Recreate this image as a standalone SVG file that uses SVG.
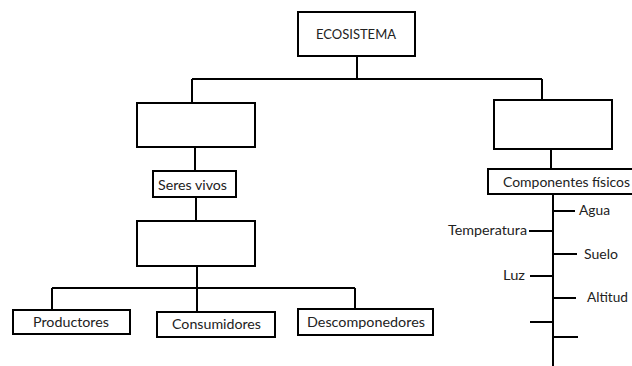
<svg xmlns="http://www.w3.org/2000/svg" width="632" height="366" viewBox="0 0 632 366">
<style>
.box{fill:#fff;stroke:#000;stroke-width:2}
.ln{fill:none;stroke:#000;stroke-width:2}
text{font-family:Lato,"Liberation Sans",sans-serif;font-size:14px;fill:#222}
</style>
<rect width="632" height="366" fill="#fff"/>
<g id="connectors">
<path class="ln" d="M357,56V79M192,79H542M192,79V103M542,79V100"/>
<path class="ln" d="M195,147V171M196,197V221M197,266V288M52,288H355M52,288V310M197,288V312M355,288V309"/>
<path class="ln" d="M551,149V169M553,194V366"/>
<path class="ln" d="M553,211H575M529,231H553M553,254H577M530,276H553M553,298H576M530,322H553M553,337H578"/>
</g>
<g id="ecosistema"><rect class="box" x="298" y="12" width="117" height="44"/><text x="316" y="39" textLength="80" lengthAdjust="spacingAndGlyphs">ECOSISTEMA</text></g>
<g id="box-left"><rect class="box" x="137" y="103" width="118" height="44"/></g>
<g id="box-right"><rect class="box" x="494" y="100" width="118" height="49"/></g>
<g id="seres-vivos"><rect class="box" x="153" y="171" width="83" height="26"/><text x="158" y="190" textLength="69" lengthAdjust="spacingAndGlyphs">Seres vivos</text></g>
<g id="box-middle"><rect class="box" x="137" y="221" width="118" height="45"/></g>
<g id="componentes"><rect class="box" x="488" y="169" width="146" height="25"/><text x="503" y="187" textLength="127" lengthAdjust="spacingAndGlyphs">Componentes físicos</text></g>
<g id="productores"><rect class="box" x="13" y="310" width="117" height="24"/><text x="33" y="327" textLength="76" lengthAdjust="spacingAndGlyphs">Productores</text></g>
<g id="consumidores"><rect class="box" x="157" y="312" width="118" height="25"/><text x="172" y="329" textLength="89" lengthAdjust="spacingAndGlyphs">Consumidores</text></g>
<g id="descomponedores"><rect class="box" x="298" y="309" width="135" height="26"/><text x="307" y="327" textLength="118" lengthAdjust="spacingAndGlyphs">Descomponedores</text></g>
<g id="agua"><text x="579" y="215" textLength="31" lengthAdjust="spacingAndGlyphs">Agua</text></g>
<g id="temperatura"><text x="448" y="235" textLength="79" lengthAdjust="spacingAndGlyphs">Temperatura</text></g>
<g id="suelo"><text x="584" y="259" textLength="34" lengthAdjust="spacingAndGlyphs">Suelo</text></g>
<g id="luz"><text x="503" y="280" textLength="22" lengthAdjust="spacingAndGlyphs">Luz</text></g>
<g id="altitud"><text x="587" y="302" textLength="41" lengthAdjust="spacingAndGlyphs">Altitud</text></g>
</svg>
